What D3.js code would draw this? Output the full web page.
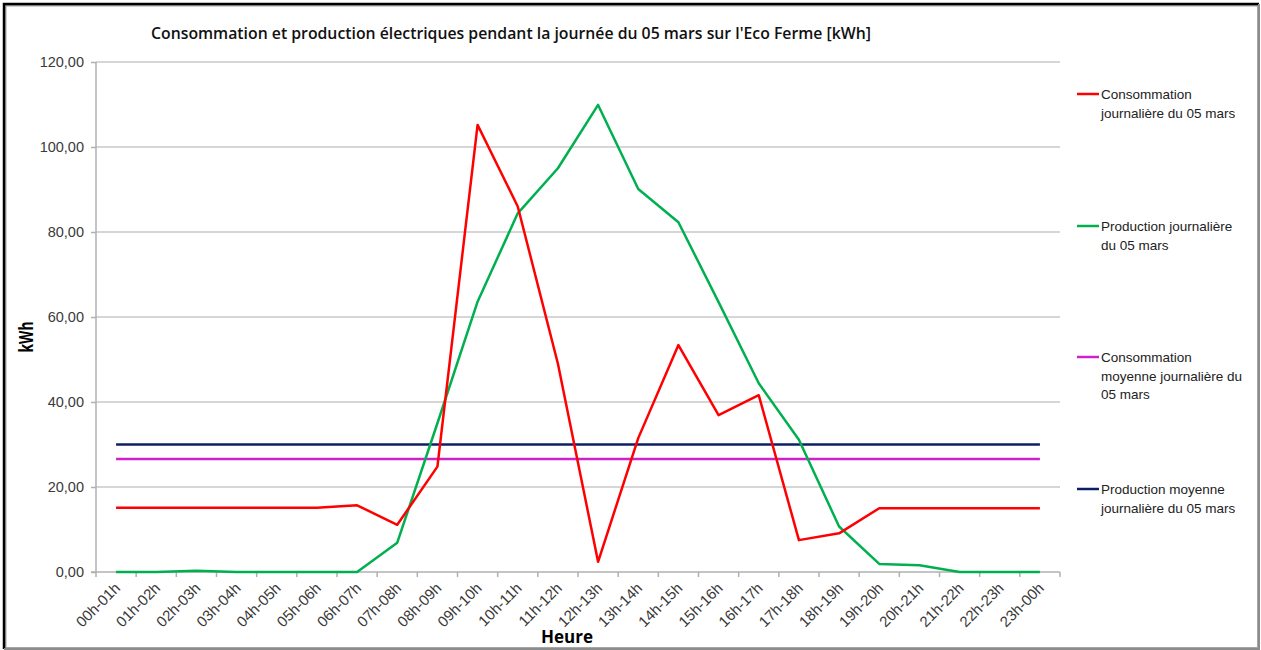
<!DOCTYPE html>
<html>
<head>
<meta charset="utf-8">
<script src="https://cdn.jsdelivr.net/npm/d3@7/dist/d3.min.js"></script>
<style>
  html, body { margin: 0; padding: 0; background: #ffffff; }
  svg { display: block; }
</style>
</head>
<body>
<script>
// Hourly slots of the day
const hours = ["00h-01h","01h-02h","02h-03h","03h-04h","04h-05h","05h-06h","06h-07h","07h-08h",
  "08h-09h","09h-10h","10h-11h","11h-12h","12h-13h","13h-14h","14h-15h","15h-16h","16h-17h",
  "17h-18h","18h-19h","19h-20h","20h-21h","21h-22h","22h-23h","23h-00h"];

// Energy per hour, kWh
const consumption = [15.1, 15.1, 15.1, 15.1, 15.1, 15.1, 15.7, 11.1, 24.8, 105.2, 86.0, 49.0,
  2.4, 31.5, 53.4, 36.9, 41.6, 7.5, 9.1, 15.0, 15.0, 15.0, 15.0, 15.0];
const production = [0.0, 0.0, 0.3, 0.0, 0.0, 0.0, 0.0, 6.9, 35.0, 63.6, 84.4, 95.0,
  109.9, 90.1, 82.3, 63.5, 44.4, 31.1, 10.7, 1.9, 1.6, 0.0, 0.0, 0.0];
const consumptionAvg = [26.6, 26.6, 26.6, 26.6, 26.6, 26.6, 26.6, 26.6, 26.6, 26.6, 26.6, 26.6,
  26.6, 26.6, 26.6, 26.6, 26.6, 26.6, 26.6, 26.6, 26.6, 26.6, 26.6, 26.6];
const productionAvg = [30.0, 30.0, 30.0, 30.0, 30.0, 30.0, 30.0, 30.0, 30.0, 30.0, 30.0, 30.0,
  30.0, 30.0, 30.0, 30.0, 30.0, 30.0, 30.0, 30.0, 30.0, 30.0, 30.0, 30.0];

const yTicks = [0, 20, 40, 60, 80, 100, 120];

const seriesNames = [
  ["Consommation", "journalière du 05 mars"],
  ["Production journalière", "du 05 mars"],
  ["Consommation", "moyenne journalière du", "05 mars"],
  ["Production moyenne", "journalière du 05 mars"]
];
const seriesColors = ["#ff0000", "#00b050", "#cc22cc", "#0c1f66"];
const seriesData = [consumption, production, consumptionAvg, productionAvg];

const W = 1261, H = 650;
const margin = { left: 96, right: 201, top: 62, bottom: 78 };

const svg = d3.select("body").append("svg").attr("width", W).attr("height", H);

// Frame: dark top/left edges, grey bottom/right edges
svg.append("rect").attr("x", 0).attr("y", 0).attr("width", W).attr("height", H).attr("fill", "#fff");
svg.append("rect").attr("x", 5.5).attr("y", 5.5).attr("width", 1252.5).attr("height", 642.5)
  .attr("fill", "none").attr("stroke", "#a6a6a6").attr("stroke-width", 2);
svg.append("path").attr("d", "M4,649 L4,4 L1259,4").attr("fill", "none")
  .attr("stroke", "#000").attr("stroke-width", 2.5);
svg.append("path").attr("d", "M1259,4 L1259,649 L4,649").attr("fill", "none")
  .attr("stroke", "#8c8c8c").attr("stroke-width", 2);

const x = d3.scaleBand().domain(hours).range([margin.left, W - margin.right]);
const y = d3.scaleLinear().domain([0, 120]).range([H - margin.bottom, margin.top]);

// Horizontal gridlines
svg.append("g").selectAll("line").data(yTicks.slice(1)).join("line")
  .attr("x1", margin.left).attr("x2", W - margin.right)
  .attr("y1", d => y(d)).attr("y2", d => y(d))
  .attr("stroke", "#c8c8c8").attr("stroke-width", 1.5);

// Y axis
const yAxis = svg.append("g").attr("transform", `translate(${margin.left},0)`)
  .call(d3.axisLeft(y).tickValues(yTicks).tickSize(5).tickPadding(7)
    .tickFormat(d => d3.format(".2f")(d).replace(".", ",")));
yAxis.select(".domain").attr("stroke", "#b0b0b0").attr("stroke-width", 1.5).attr("d", `M-0,${y(120)}V${y(0)}`);
yAxis.selectAll(".tick line").attr("stroke", "#b0b0b0").attr("stroke-width", 1.5);
yAxis.selectAll(".tick text").attr("font-family", "Liberation Sans, Arial, sans-serif")
  .attr("font-size", 14.5).attr("fill", "#3a3a3a");

// X axis: ticks between categories
const xAxisG = svg.append("g").attr("transform", `translate(0,${y(0)})`);
xAxisG.append("line").attr("x1", margin.left - 5).attr("x2", W - margin.right)
  .attr("stroke", "#b0b0b0").attr("stroke-width", 1.5);
const boundaries = hours.map(h => x(h)).concat([x(hours[hours.length - 1]) + x.bandwidth()]);
xAxisG.selectAll("line.tk").data(boundaries).join("line").attr("class", "tk")
  .attr("x1", d => d).attr("x2", d => d).attr("y1", 0).attr("y2", 5)
  .attr("stroke", "#b0b0b0").attr("stroke-width", 1.5);
xAxisG.selectAll("text").data(hours).join("text")
  .attr("transform", d => `translate(${x(d) + x.bandwidth() / 2 + 5},${17}) rotate(-45)`)
  .attr("text-anchor", "end")
  .attr("font-family", "Liberation Sans, Arial, sans-serif")
  .attr("font-size", 15).attr("fill", "#3a3a3a")
  .text(d => d);

// Series lines
const line = d3.line().x((d, i) => x(hours[i]) + x.bandwidth() / 2).y(d => y(d));
// Averages drawn first, then production, then consumption on top
[3, 2, 1, 0].forEach(k => {
  svg.append("path").datum(seriesData[k]).attr("d", line)
    .attr("fill", "none").attr("stroke", seriesColors[k]).attr("stroke-width", 2.5)
    .attr("stroke-linejoin", "round");
});

// Title
svg.append("text").attr("x", 511).attr("y", 39).attr("text-anchor", "middle")
  .attr("font-family", "Open Sans, sans-serif").attr("font-weight", 600)
  .attr("font-size", 15.8).attr("fill", "#111")
  .text("Consommation et production électriques pendant la journée du 05 mars sur l'Eco Ferme [kWh]");

// Axis titles
svg.append("text").attr("transform", "translate(33,337) rotate(-90)").attr("text-anchor", "middle")
  .attr("font-family", "Open Sans, sans-serif").attr("font-weight", "bold")
  .attr("font-size", 19).attr("fill", "#000")
  .attr("textLength", 31).attr("lengthAdjust", "spacingAndGlyphs").text("kWh");
svg.append("text").attr("x", 567).attr("y", 643).attr("text-anchor", "middle")
  .attr("font-family", "Open Sans, sans-serif").attr("font-weight", "bold")
  .attr("font-size", 17).attr("fill", "#000").text("Heure");

// Legend
const legendY = [94, 226, 357, 489];
const legend = svg.append("g");
seriesNames.forEach((lines, k) => {
  const g = legend.append("g").attr("transform", `translate(1077,${legendY[k]})`);
  g.append("line").attr("x1", 0).attr("x2", 22).attr("y1", 0).attr("y2", 0)
    .attr("stroke", seriesColors[k]).attr("stroke-width", 2.5);
  const t = g.append("text").attr("x", 24).attr("y", 5)
    .attr("font-family", "Liberation Sans, Arial, sans-serif")
    .attr("font-size", 13.5).attr("fill", "#222");
  lines.forEach((s, j) => t.append("tspan").attr("x", 24).attr("dy", j === 0 ? 0 : 18.5).text(s));
});
</script>
</body>
</html>
